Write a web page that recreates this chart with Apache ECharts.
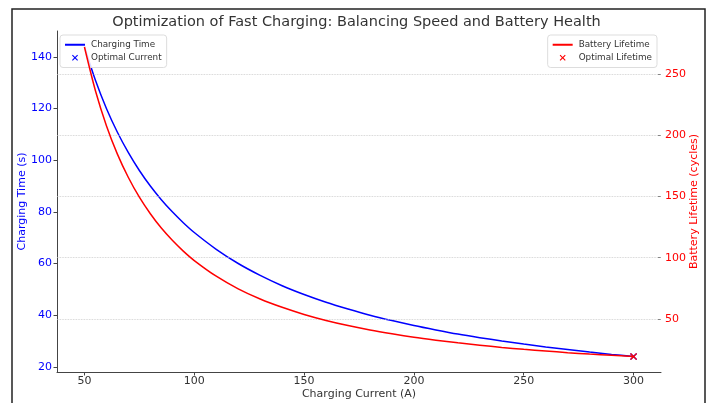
<!DOCTYPE html>
<html><head><meta charset="utf-8">
<script src="https://cdn.jsdelivr.net/npm/echarts@6/dist/echarts.min.js"></script>
<style>html,body{margin:0;padding:0;background:#fff}#c{width:713px;height:403px}</style>
</head><body><div id="c"></div>
<script>
var current = [50,55,60,65,70,75,80,85,90,95,100,110,120,130,140,150,160,170,180,190,200,210,220,230,240,250,260,270,280,290,300];
var chargingTime = [144,130.9,120,110.8,102.9,96,90,84.7,80,75.8,72,65.5,60,55.4,51.4,48,45,42.4,40,37.9,36,34.3,32.7,31.3,30,28.8,27.7,26.7,25.7,24.8,24];
var batteryLife = [272,236.3,207.8,184.6,165.5,149.4,135.9,124.2,114.2,105.4,97.7,84.9,74.6,66.3,59.5,53.7,48.8,44.6,41.0,37.9,35.1,32.7,30.5,28.6,26.8,25.2,23.8,22.5,21.3,20.3,19.3];
var optimalCurrent = [[300,24]];
var optimalLifetime = [[300,19.3]];
var xTicks = [50,100,150,200,250,300];
var leftTicks = [20,40,60,80,100,120,140];
var rightTicks = [50,100,150,200,250];

var F = 'DejaVu Sans';
var X = 'path://M0,1.3 L1.3,0 L5,3.7 L8.7,0 L10,1.3 L6.3,5 L10,8.7 L8.7,10 L5,6.3 L1.3,10 L0,8.7 L3.7,5 Z';
function zip(a,b){return a.map(function(v,i){return [v,b[i]];});}

var legendBase = {orient:'vertical',top:35,z:4,itemWidth:20,itemHeight:6,itemGap:1.5,
  padding:[4,5,4,4],borderColor:'#ddd',borderWidth:1,borderRadius:3,backgroundColor:'rgba(255,255,255,0.85)',
  textStyle:{fontFamily:F,fontSize:8.8,color:'#333',padding:[0,0,0,1],lineHeight:11.5}};

var chart = echarts.init(document.getElementById('c'), null, {renderer:'canvas'});
chart.setOption({
  animation:false,
  backgroundColor:'#fff',
  textStyle:{fontFamily:F},
  graphic:[{type:'rect',z:-10,shape:{x:12,y:9,width:693,height:404},style:{fill:'none',stroke:'#222',lineWidth:1.5}}],
  title:{text:'Optimization of Fast Charging: Balancing Speed and Battery Health',left:'center',top:10,
    textStyle:{fontFamily:F,fontSize:14.5,fontWeight:'normal',color:'#333'}},
  grid:{left:57,right:52,top:31,bottom:31,containLabel:false,outerBoundsMode:'none'},
  legend:[
    Object.assign({left:60,data:[{name:'Charging Time',itemStyle:{opacity:0}},{name:'Optimal Current'}]},legendBase),
    Object.assign({right:56,data:[{name:'Battery Lifetime',itemStyle:{opacity:0}},{name:'Optimal Lifetime'}]},legendBase)
  ],
  xAxis:{type:'value',min:37.5,max:312.5,
    name:'Charging Current (A)',nameLocation:'middle',nameGap:17,nameMoveOverlap:false,nameTextStyle:{fontFamily:F,fontSize:11,color:'#333'},
    axisLine:{show:true,lineStyle:{color:'#444',width:1}},
    axisTick:{show:true,length:3.5,customValues:xTicks,lineStyle:{color:'#444'}},
    axisLabel:{customValues:xTicks,color:'#333',fontSize:11,fontFamily:F,margin:4},
    splitLine:{show:false}},
  yAxis:[
    {type:'value',position:'left',min:18,max:150,
     name:'Charging Time (s)',nameLocation:'middle',nameRotate:90,nameGap:29,nameMoveOverlap:false,nameTextStyle:{fontFamily:F,fontSize:11,color:'blue'},
     axisLine:{show:true,lineStyle:{color:'#444',width:1}},
     axisTick:{show:true,length:3.5,customValues:leftTicks,lineStyle:{color:'#444'}},
     axisLabel:{customValues:leftTicks,color:'blue',fontSize:11,fontFamily:F,margin:5},
     splitLine:{show:false}},
    {type:'value',position:'right',min:6.7,max:285.1,
     name:'Battery Lifetime (cycles)',nameLocation:'middle',nameRotate:90,nameGap:28,nameMoveOverlap:false,nameTextStyle:{fontFamily:F,fontSize:11,color:'red'},
     axisLine:{show:false},
     axisTick:{show:true,inside:true,length:3,customValues:rightTicks,lineStyle:{color:'#666'}},
     axisLabel:{customValues:rightTicks,color:'red',fontSize:11,fontFamily:F,margin:4},
     splitLine:{show:false}}
  ],
  series:[
    {name:'gridHelper',type:'line',yAxisIndex:1,data:zip(current,batteryLife),symbol:'none',silent:true,z:1,
     lineStyle:{opacity:0},
     markLine:{silent:true,symbol:'none',label:{show:false},lineStyle:{type:'dotted',color:'#c8c8c8',width:0.8},
       data:rightTicks.map(function(v){return {yAxis:v};})}},
    {name:'Charging Time',type:'line',yAxisIndex:0,data:zip(current,chargingTime),smooth:0.3,symbol:'none',showSymbol:false,z:2,
     color:'#0000ff',lineStyle:{color:'#0000ff',width:1.5}},
    {name:'Optimal Current',type:'scatter',yAxisIndex:0,data:optimalCurrent,symbol:X,symbolSize:7,symbolKeepAspect:true,z:3,
     itemStyle:{color:'#0000ff',opacity:1}},
    {name:'Battery Lifetime',type:'line',yAxisIndex:1,data:zip(current,batteryLife),smooth:0.3,symbol:'none',showSymbol:false,z:5,
     color:'#ff0000',lineStyle:{color:'#ff0000',width:1.5}},
    {name:'Optimal Lifetime',type:'scatter',yAxisIndex:1,data:optimalLifetime,symbol:X,symbolSize:7,symbolKeepAspect:true,z:6,
     itemStyle:{color:'#ff0000',opacity:1}}
  ]
});
</script></body></html>
